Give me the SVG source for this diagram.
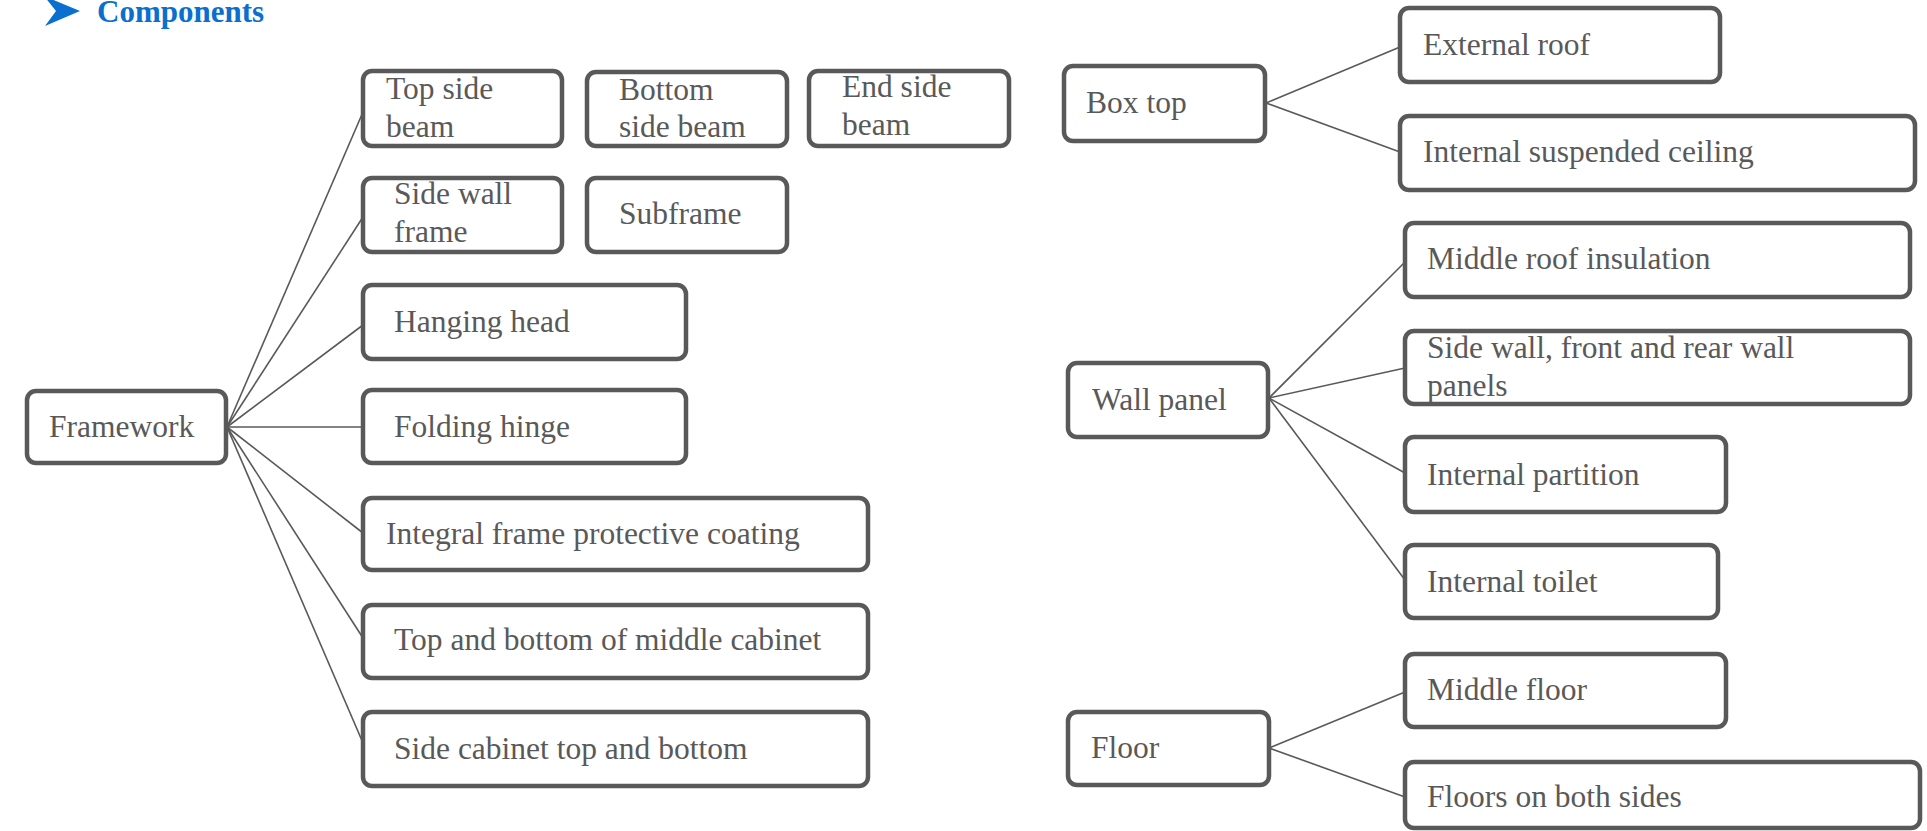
<svg xmlns="http://www.w3.org/2000/svg" width="1927" height="831" viewBox="0 0 1927 831">
<style>
.box{fill:#ffffff;stroke:#595959;stroke-width:4.5}
.lbl{font-family:"Liberation Serif","Times New Roman",serif;font-size:31.5px;fill:#595959}
.con line{stroke:#595959;stroke-width:1.6}
.title{font-family:"Liberation Serif","Times New Roman",serif;font-size:31px;font-weight:bold;fill:#0a6fce}
</style>
<rect width="1927" height="831" fill="#ffffff"/>
<g id="title">
<polygon points="44,-4 80,11 45,26 56,11" fill="#0a6fce"/>
<text class="title" x="97" y="22">Components</text>
</g>
<g id="connectors" class="con">
<line x1="227" y1="427" x2="363" y2="112"/>
<line x1="227" y1="427" x2="363" y2="217"/>
<line x1="227" y1="427" x2="363" y2="325"/>
<line x1="227" y1="427" x2="363" y2="427"/>
<line x1="227" y1="427" x2="363" y2="533"/>
<line x1="227" y1="427" x2="363" y2="638"/>
<line x1="227" y1="427" x2="363" y2="743"/>
<line x1="1266" y1="103" x2="1400" y2="47"/>
<line x1="1266" y1="103" x2="1400" y2="152"/>
<line x1="1269" y1="398" x2="1405" y2="262"/>
<line x1="1269" y1="398" x2="1405" y2="368"/>
<line x1="1269" y1="398" x2="1405" y2="473"/>
<line x1="1269" y1="398" x2="1405" y2="580"/>
<line x1="1269" y1="748" x2="1405" y2="692"/>
<line x1="1269" y1="748" x2="1405" y2="797"/>
</g>
<g id="framework"><rect class="box" x="27" y="391" width="199" height="72" rx="9"/><text class="lbl" x="49" y="437">Framework</text></g>
<g id="top-side-beam"><rect class="box" x="363" y="71" width="199" height="75" rx="9"/><text class="lbl" x="386" y="99">Top side</text><text class="lbl" x="386" y="137">beam</text></g>
<g id="bottom-side-beam"><rect class="box" x="587" y="72" width="200" height="74" rx="9"/><text class="lbl" x="619" y="100">Bottom</text><text class="lbl" x="619" y="137">side beam</text></g>
<g id="end-side-beam"><rect class="box" x="809" y="71" width="200" height="75" rx="9"/><text class="lbl" x="842" y="97">End side</text><text class="lbl" x="842" y="135">beam</text></g>
<g id="side-wall-frame"><rect class="box" x="363" y="178" width="199" height="74" rx="9"/><text class="lbl" x="394" y="204">Side wall</text><text class="lbl" x="394" y="242">frame</text></g>
<g id="subframe"><rect class="box" x="587" y="178" width="200" height="74" rx="9"/><text class="lbl" x="619" y="224">Subframe</text></g>
<g id="hanging-head"><rect class="box" x="363" y="285" width="323" height="74" rx="9"/><text class="lbl" x="394" y="332">Hanging head</text></g>
<g id="folding-hinge"><rect class="box" x="363" y="390" width="323" height="73" rx="9"/><text class="lbl" x="394" y="437">Folding hinge</text></g>
<g id="integral-coating"><rect class="box" x="363" y="498" width="505" height="72" rx="9"/><text class="lbl" x="386" y="544">Integral frame protective coating</text></g>
<g id="middle-cabinet"><rect class="box" x="363" y="605" width="505" height="73" rx="9"/><text class="lbl" x="394" y="650">Top and bottom of middle cabinet</text></g>
<g id="side-cabinet"><rect class="box" x="363" y="712" width="505" height="74" rx="9"/><text class="lbl" x="394" y="759">Side cabinet top and bottom</text></g>
<g id="box-top"><rect class="box" x="1064" y="66" width="201" height="75" rx="9"/><text class="lbl" x="1086" y="113">Box top</text></g>
<g id="external-roof"><rect class="box" x="1400" y="8" width="320" height="74" rx="9"/><text class="lbl" x="1423" y="55">External roof</text></g>
<g id="internal-ceiling"><rect class="box" x="1400" y="116" width="515" height="74" rx="9"/><text class="lbl" x="1423" y="162">Internal suspended ceiling</text></g>
<g id="wall-panel"><rect class="box" x="1068" y="363" width="200" height="74" rx="9"/><text class="lbl" x="1092" y="410">Wall panel</text></g>
<g id="middle-roof"><rect class="box" x="1405" y="223" width="505" height="74" rx="9"/><text class="lbl" x="1427" y="269">Middle roof insulation</text></g>
<g id="wall-panels"><rect class="box" x="1405" y="331" width="505" height="73" rx="9"/><text class="lbl" x="1427" y="358">Side wall, front and rear wall</text><text class="lbl" x="1427" y="396">panels</text></g>
<g id="internal-partition"><rect class="box" x="1405" y="437" width="321" height="75" rx="9"/><text class="lbl" x="1427" y="485">Internal partition</text></g>
<g id="internal-toilet"><rect class="box" x="1405" y="545" width="313" height="73" rx="9"/><text class="lbl" x="1427" y="592">Internal toilet</text></g>
<g id="floor"><rect class="box" x="1068" y="712" width="201" height="73" rx="9"/><text class="lbl" x="1091" y="758">Floor</text></g>
<g id="middle-floor"><rect class="box" x="1405" y="654" width="321" height="73" rx="9"/><text class="lbl" x="1427" y="700">Middle floor</text></g>
<g id="floors-both-sides"><rect class="box" x="1405" y="762" width="515" height="66" rx="9"/><text class="lbl" x="1427" y="807">Floors on both sides</text></g>
</svg>
